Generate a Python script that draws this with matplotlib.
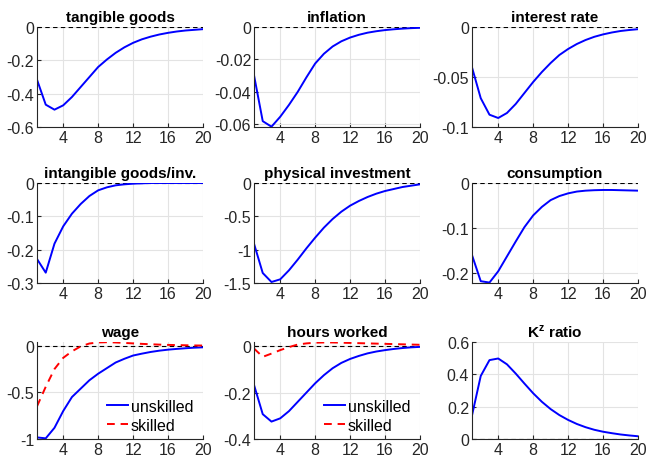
import numpy as np
import matplotlib
matplotlib.use('Agg')
import matplotlib.pyplot as plt

plt.rcParams['font.family'] = ['Liberation Sans', 'DejaVu Sans']

# impulse responses, periods 1..20
t = np.arange(1, 21)

tangible = [-0.316, -0.466, -0.496, -0.47, -0.42, -0.36, -0.30, -0.24, -0.195, -0.155,
            -0.122, -0.095, -0.074, -0.058, -0.045, -0.035, -0.027, -0.021, -0.017, -0.013]
inflation = [-0.0297, -0.058, -0.0614, -0.0553, -0.048, -0.040, -0.031, -0.0225, -0.0165, -0.012,
             -0.0088, -0.0065, -0.0048, -0.0035, -0.0026, -0.0019, -0.0014, -0.001, -0.0007, -0.0005]
interest = [-0.0404, -0.0712, -0.0877, -0.091, -0.086, -0.077, -0.066, -0.055, -0.045, -0.036,
            -0.028, -0.022, -0.017, -0.013, -0.0098, -0.0074, -0.0055, -0.004, -0.003, -0.0022]
intangible = [-0.228, -0.269, -0.182, -0.13, -0.092, -0.063, -0.039, -0.022, -0.013, -0.007,
              -0.004, -0.002, -0.001, 0.0, 0.0, 0.0, 0.0, 0.0, 0.0, 0.0]
phys_inv = [-0.91, -1.35, -1.485, -1.445, -1.31, -1.15, -0.98, -0.82, -0.67, -0.54,
            -0.43, -0.34, -0.27, -0.21, -0.16, -0.12, -0.09, -0.06, -0.04, -0.02]
consumption = [-0.16, -0.218, -0.221, -0.196, -0.163, -0.130, -0.098, -0.072, -0.053, -0.038,
               -0.029, -0.023, -0.019, -0.017, -0.016, -0.0155, -0.0155, -0.016, -0.0165, -0.017]
wage_unsk = [-0.983, -0.993, -0.88, -0.70, -0.55, -0.46, -0.37, -0.30, -0.24, -0.18,
             -0.14, -0.105, -0.085, -0.067, -0.053, -0.042, -0.034, -0.027, -0.021, -0.017]
wage_sk = [-0.65, -0.44, -0.25, -0.13, -0.06, -0.007, 0.024, 0.035, 0.038, 0.035,
           0.03, 0.025, 0.02, 0.016, 0.012, 0.009, 0.007, 0.005, 0.003, 0.002]
hours_unsk = [-0.167, -0.293, -0.325, -0.311, -0.28, -0.24, -0.20, -0.16, -0.125, -0.095,
              -0.072, -0.055, -0.042, -0.031, -0.023, -0.017, -0.012, -0.008, -0.005, -0.003]
hours_sk = [-0.01, -0.046, -0.032, -0.017, -0.004, 0.007, 0.012, 0.015, 0.016, 0.016,
            0.015, 0.014, 0.013, 0.012, 0.011, 0.010, 0.009, 0.008, 0.007, 0.006]
kz_ratio = [0.146, 0.39, 0.488, 0.498, 0.462, 0.405, 0.343, 0.283, 0.23, 0.185,
            0.148, 0.118, 0.093, 0.073, 0.057, 0.045, 0.036, 0.028, 0.022, 0.017]

panels = [
    ('tangible goods', [tangible], (-0.6, 0), [-0.6, -0.4, -0.2, 0], ['-0.6', '-0.4', '-0.2', '0']),
    ('inflation', [inflation], (-0.0616, 0), [-0.06, -0.04, -0.02, 0], ['-0.06', '-0.04', '-0.02', '0']),
    ('interest rate', [interest], (-0.1, 0), [-0.1, -0.05, 0], ['-0.1', '-0.05', '0']),
    ('intangible goods/inv.', [intangible], (-0.3, 0), [-0.3, -0.2, -0.1, 0], ['-0.3', '-0.2', '-0.1', '0']),
    ('physical investment', [phys_inv], (-1.5, 0), [-1.5, -1, -0.5, 0], ['-1.5', '-1', '-0.5', '0']),
    ('consumption', [consumption], (-0.222, 0), [-0.2, -0.1, 0], ['-0.2', '-0.1', '0']),
    ('wage', [wage_unsk, wage_sk], (-1, 0.04), [-1, -0.5, 0], ['-1', '-0.5', '0']),
    ('hours worked', [hours_unsk, hours_sk], (-0.4, 0.018), [-0.4, -0.2, 0], ['-0.4', '-0.2', '0']),
    ('K$^\\mathregular{z}$ ratio', [kz_ratio], (0, 0.6), [0, 0.2, 0.4, 0.6], ['0', '0.2', '0.4', '0.6']),
]

fig = plt.figure(figsize=(6.48, 4.6), dpi=100)
W, H = 648, 460
lefts = [37, 254, 472]
widths = [166, 166, 166]
rows = [(28, 128), (184, 284), (343, 440)]

axc = '#262626'
for i, (title, series, ylim, yt, ytl) in enumerate(panels):
    r, c = divmod(i, 3)
    top, bot = rows[r]
    ax = fig.add_axes([lefts[c] / W, 1 - bot / H, widths[c] / W, (bot - top) / H])
    ax.grid(True, color='#e3e3e3', linewidth=0.8)
    ax.set_axisbelow(True)
    ax.axhline(0, color='k', linestyle='--', linewidth=0.8, dashes=(4, 3))
    lines = []
    l1, = ax.plot(t, series[0], color='#0000ff', linewidth=1.4)
    lines.append(l1)
    if len(series) > 1:
        l2, = ax.plot(t, series[1], color='#ff0000', linewidth=1.4, linestyle='--', dashes=(4, 3))
        lines.append(l2)
        ax.legend(lines, ['unskilled', 'skilled'], loc='lower right', frameon=False,
                  fontsize=11.5, handlelength=1.3, handletextpad=0.2,
                  borderaxespad=0.0, labelspacing=0.25, bbox_to_anchor=(0.98, 0.0))
    ax.set_xlim(1, 20)
    ax.set_ylim(*ylim)
    ax.set_xticks([4, 8, 12, 16, 20])
    ax.set_yticks(yt)
    ax.set_yticklabels(ytl)
    for s in ['top', 'right']:
        ax.spines[s].set_visible(False)
    for s in ['left', 'bottom']:
        ax.spines[s].set_color(axc)
        ax.spines[s].set_linewidth(0.8)
    ax.tick_params(direction='in', length=3, colors=axc, labelsize=11.5, pad=2)
    ax.set_title(title, fontsize=11, fontweight='bold', pad=4)

fig.savefig('out.png', dpi=100)
